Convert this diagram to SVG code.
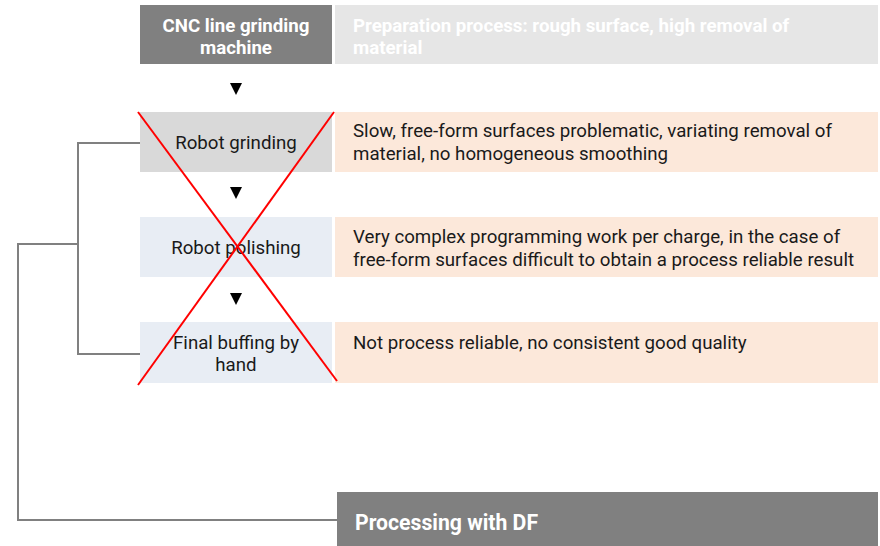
<svg xmlns="http://www.w3.org/2000/svg" width="880" height="546" viewBox="0 0 880 546">
<style>
.t{font-family:Roboto,"Liberation Sans",sans-serif;font-size:18.7px;fill:#1a1a1a}
.c{text-anchor:middle}
.w{fill:#ffffff;font-weight:bold}
.ln{fill:none;stroke:#808080;stroke-width:2}
.x{stroke:#ff0000;stroke-width:2}
.arr{fill:#000}
</style>
<rect width="880" height="546" fill="#ffffff"/>
<g id="connectors">
<polyline class="ln" points="140,143 78,143 78,354 140,354"/>
<polyline class="ln" points="78,244 18,244 18,520 337,520"/>
</g>
<g id="cnc">
<rect x="140" y="5" width="192" height="59" fill="#808080"/>
<text class="t c w" x="236" y="32">CNC line grinding</text>
<text class="t c w" x="236" y="54">machine</text>
</g>
<g id="prep">
<rect x="335" y="5" width="543" height="59" fill="#e6e6e6"/>
<text class="t w" x="353" y="32">Preparation process: rough surface, high removal of</text>
<text class="t w" x="353" y="54">material</text>
</g>
<path class="arr" d="M230,83 L242,83 L236,95 Z"/>
<g id="grinding">
<rect x="140" y="112" width="192" height="60" fill="#d9d9d9"/>
<text class="t c" x="236" y="149">Robot grinding</text>
</g>
<g id="grinding-note">
<rect x="335" y="112" width="543" height="60" fill="#fce8da"/>
<text class="t" x="353" y="137">Slow, free-form surfaces problematic, variating removal of</text>
<text class="t" x="353" y="160">material, no homogeneous smoothing</text>
</g>
<path class="arr" d="M230,187 L242,187 L236,199 Z"/>
<g id="polishing">
<rect x="140" y="217" width="192" height="60" fill="#e8edf4"/>
<text class="t c" x="236" y="254">Robot polishing</text>
</g>
<g id="polishing-note">
<rect x="335" y="217" width="543" height="60" fill="#fce8da"/>
<text class="t" x="353" y="243">Very complex programming work per charge, in the case of</text>
<text class="t" x="353" y="266">free-form surfaces difficult to obtain a process reliable result</text>
</g>
<path class="arr" d="M230,293 L242,293 L236,305 Z"/>
<g id="buffing">
<rect x="140" y="322" width="192" height="61" fill="#e8edf4"/>
<text class="t c" x="236" y="349">Final buffing by</text>
<text class="t c" x="236" y="371">hand</text>
</g>
<g id="buffing-note">
<rect x="335" y="322" width="543" height="61" fill="#fce8da"/>
<text class="t" x="353" y="349">Not process reliable, no consistent good quality</text>
</g>
<g id="cross">
<line class="x" x1="138" y1="112" x2="337" y2="381"/>
<line class="x" x1="334" y1="112" x2="138" y2="385"/>
</g>
<g id="df">
<rect x="337" y="492" width="541" height="54" fill="#808080"/>
<text class="t w" x="355" y="530" style="font-size:21.2px">Processing with DF</text>
</g>
</svg>
